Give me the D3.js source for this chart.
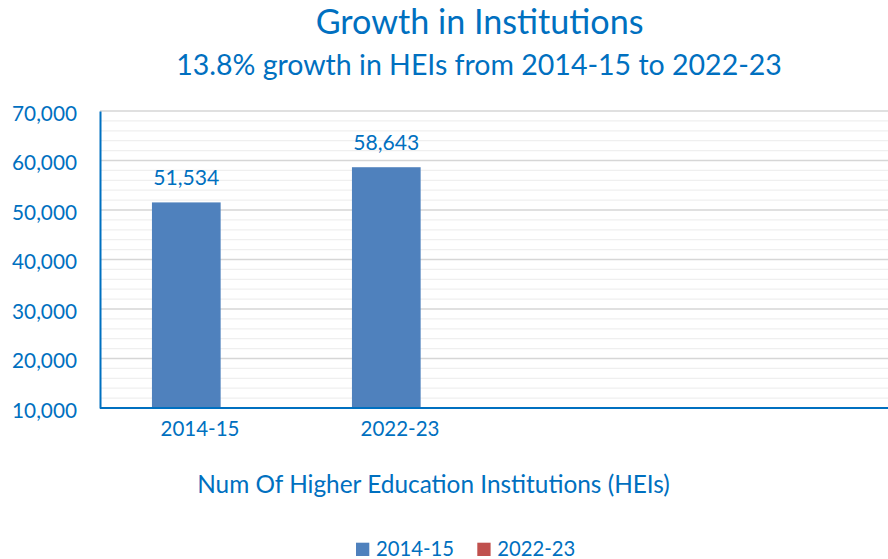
<!DOCTYPE html>
<html>
<head>
<meta charset="utf-8">
<script src="https://cdn.jsdelivr.net/npm/d3@7"></script>
<style>
  html, body { margin: 0; padding: 0; background: #ffffff; }
  svg { display: block; font-family: Lato, "Open Sans", sans-serif; }
</style>
</head>
<body>
<svg id="chart" width="888" height="559"></svg>
<script>
// ---- data ----
const categories = ["2014-15", "2022-23", "slot3", "slot4"];
const seriesNames = ["2014-15", "2022-23"];
const institutions = [51534, 58643];          // "2014-15" series, one value per shown category
const yTicks = [10000, 20000, 30000, 40000, 50000, 60000, 70000];
const titleText = "Growth in Institutions";
const subtitleText = "13.8% growth in HEIs from 2014-15 to 2022-23";
const axisTitleText = "Num Of Higher Education Institutions (HEIs)";

const BLUE_TEXT = "#0070c0";
const seriesColors = ["#4f81bd", "#c0504d"];

const svg = d3.select("#chart");
const W = 888, H = 559;
const plot = { left: 100, right: 888, top: 111, bottom: 408 };

// scales
const y = d3.scaleLinear().domain([10000, 70000]).range([plot.bottom, plot.top]);
const x = d3.scaleBand().domain(categories).range([plot.left, plot.left + 800]);
const xBar = d3.scaleBand().domain(categories)
  .range([plot.left - 13.7, plot.left + 800 - 13.7])
  .paddingInner(0.6565).paddingOuter(0.6565 / 2);

// scale text so that a sample string spans a given width
function fitFont(sel, sample, target, base) {
  const probe = svg.append("text").attr("font-size", base).text(sample);
  const w = probe.node().getComputedTextLength();
  probe.remove();
  sel.attr("font-size", (base * target / w).toFixed(2));
}

// minor gridlines every 2,000
const minor = d3.range(12000, 70001, 2000).filter(v => v % 10000 !== 0);
svg.append("g").selectAll("line").data(minor).join("line")
  .attr("x1", plot.left).attr("x2", plot.right)
  .attr("y1", d => y(d)).attr("y2", d => y(d))
  .attr("stroke", "#efefef").attr("stroke-width", 1.3);

// major gridlines
svg.append("g").selectAll("line").data(yTicks.slice(1)).join("line")
  .attr("x1", plot.left).attr("x2", plot.right)
  .attr("y1", d => y(d)).attr("y2", d => y(d))
  .attr("stroke", "#d6d6d6").attr("stroke-width", 1.3);

// bars
const barData = institutions.map((v, i) => ({ cat: categories[i], value: v }));
svg.append("g").selectAll("rect").data(barData).join("rect")
  .attr("x", d => xBar(d.cat))
  .attr("width", xBar.bandwidth())
  .attr("y", d => y(d.value))
  .attr("height", d => y(10000) - y(d.value))
  .attr("fill", seriesColors[0]);

// data labels
const fmt = d3.format(",");
const dl = svg.append("g").selectAll("text").data(barData).join("text")
  .attr("x", d => xBar(d.cat) + xBar.bandwidth() / 2)
  .attr("y", d => y(d.value) - 17.5)
  .attr("text-anchor", "middle")
  .attr("fill", BLUE_TEXT)
  .text(d => fmt(d.value));
fitFont(dl, "51,534", 66, 20);

// y axis
const yAxis = svg.append("g").attr("transform", `translate(${plot.left},0)`)
  .call(d3.axisLeft(y).tickValues(yTicks).tickFormat(d3.format(",")).tickSize(0).tickPadding(23));
yAxis.select(".domain").attr("stroke", BLUE_TEXT).attr("stroke-width", 2);
const yt = yAxis.selectAll("text").attr("fill", BLUE_TEXT).attr("dy", "0.45em")
  .attr("font-family", "Lato, 'Open Sans', sans-serif");
fitFont(yt, "70,000", 65, 20);

// x axis
const xAxis = svg.append("g").attr("transform", `translate(0,${plot.bottom})`)
  .call(d3.axisBottom(x).tickValues(categories.slice(0, 2)).tickSize(0).tickPadding(22));
xAxis.select(".domain").remove();
svg.append("line")
  .attr("x1", plot.left).attr("x2", plot.right)
  .attr("y1", y(10000)).attr("y2", y(10000))
  .attr("stroke", BLUE_TEXT).attr("stroke-width", 2);
const xt = xAxis.selectAll("text").attr("fill", BLUE_TEXT).attr("dy", "0.3em")
  .attr("font-family", "Lato, 'Open Sans', sans-serif");
fitFont(xt, "2014-15", 79, 20);

// titles
const t1 = svg.append("text").attr("x", 479.6).attr("y", 33.5)
  .attr("text-anchor", "middle").attr("fill", BLUE_TEXT).text(titleText);
fitFont(t1, titleText, 328, 30);
const t2 = svg.append("text").attr("x", 479).attr("y", 75)
  .attr("text-anchor", "middle").attr("fill", BLUE_TEXT).text(subtitleText);
fitFont(t2, subtitleText, 606, 26);

// axis title
const at = svg.append("text").attr("x", 433.5).attr("y", 493)
  .attr("text-anchor", "middle").attr("fill", BLUE_TEXT).text(axisTitleText);
fitFont(at, axisTitleText, 473, 22);

// legend
const legend = svg.append("g");
const legendX = [356, 477.3];
seriesNames.forEach((name, i) => {
  legend.append("rect")
    .attr("x", legendX[i]).attr("y", 542.7)
    .attr("width", 13.3).attr("height", 13.3)
    .attr("fill", seriesColors[i]);
  const lt = legend.append("text")
    .attr("x", legendX[i] + 20).attr("y", 556)
    .attr("fill", BLUE_TEXT).text(name);
  fitFont(lt, "2014-15", 78, 20);
});
</script>
</body>
</html>
